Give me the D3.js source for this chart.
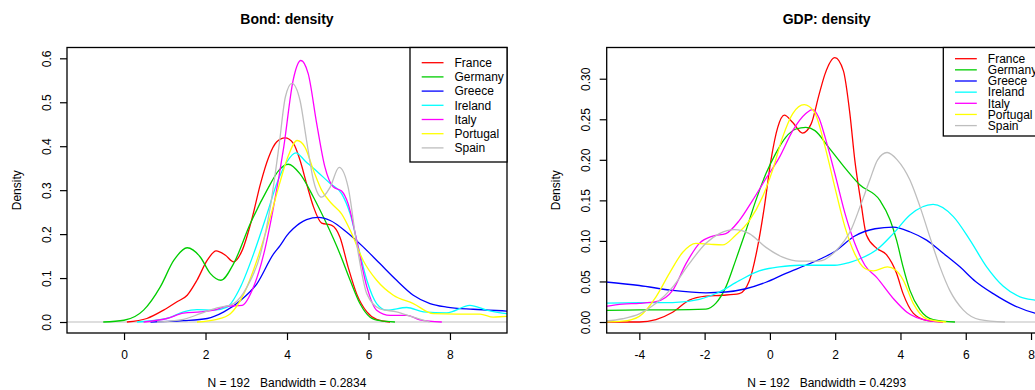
<!DOCTYPE html>
<meta charset="utf-8">
<style>
  body { margin: 0; background: #fff; }
  text { font-family: "Liberation Sans", Arial, Helvetica, sans-serif; white-space: pre; }
</style>
<script src="https://d3js.org/d3.v7.min.js"></script>
<div id="chart"></div>
<script>

// countries and the colours used for them
var countries = ["France", "Germany", "Greece", "Ireland", "Italy", "Portugal", "Spain"];
var colors = ["#FF0000", "#00CD00", "#0000FF", "#00FFFF", "#FF00FF", "#FFFF00", "#BEBEBE"];

// Bond: density curves, [x, density]
var bondFrance = [[0.07,0],[0.56,0.008],[0.97,0.027],[1.3,0.046],[1.55,0.061],[1.79,0.095],[2.04,0.14],[2.26,0.162],[2.49,0.152],[2.69,0.137],[2.9,0.163],[3.14,0.235],[3.35,0.315],[3.55,0.375],[3.75,0.41],[3.95,0.419],[4.16,0.406],[4.32,0.368],[4.48,0.315],[4.65,0.262],[4.85,0.225],[5.1,0.22],[5.3,0.193],[5.5,0.125],[5.71,0.064],[5.96,0.023],[6.2,0.006],[6.53,0]];
var bondGermany = [[-0.51,0],[0,0.004],[0.48,0.027],[0.89,0.08],[1.22,0.14],[1.55,0.169],[1.87,0.148],[2.12,0.11],[2.38,0.095],[2.69,0.133],[3.1,0.224],[3.51,0.3],[3.8,0.345],[4.03,0.359],[4.32,0.337],[4.65,0.284],[4.97,0.224],[5.3,0.155],[5.55,0.095],[5.79,0.042],[6.04,0.011],[6.28,0.003],[6.65,0]];
var bondGreece = [[0.65,0],[1.46,0.003],[2.04,0.008],[2.45,0.023],[2.86,0.049],[3.26,0.087],[3.67,0.155],[3.83,0.174],[4.0,0.197],[4.15,0.212],[4.48,0.233],[4.77,0.238],[5.06,0.231],[5.46,0.205],[5.87,0.171],[6.28,0.133],[6.69,0.095],[7.1,0.061],[7.51,0.042],[7.92,0.034],[8.57,0.029],[9.39,0.025],[9.6,0.024]];
var bondIreland = [[0.32,0],[1.05,0.008],[1.46,0.023],[1.79,0.028],[2.2,0.027],[2.53,0.034],[2.86,0.08],[3.18,0.155],[3.51,0.246],[3.75,0.315],[4.0,0.365],[4.22,0.385],[4.45,0.366],[4.65,0.35],[5.06,0.315],[5.34,0.292],[5.55,0.246],[5.75,0.171],[5.96,0.095],[6.2,0.042],[6.45,0.027],[6.94,0.033],[7.35,0.023],[7.92,0.021],[8.49,0.038],[8.9,0.027],[9.39,0.019],[9.6,0.018]];
var bondItaly = [[0.48,0],[1.05,0.008],[1.46,0.02],[1.87,0.023],[2.2,0.027],[2.53,0.036],[2.9,0.038],[3.18,0.08],[3.43,0.155],[3.67,0.262],[3.92,0.398],[4.15,0.55],[4.34,0.595],[4.52,0.565],[4.73,0.451],[4.93,0.353],[5.14,0.307],[5.34,0.298],[5.5,0.269],[5.71,0.186],[5.96,0.08],[6.2,0.027],[6.53,0.015],[6.94,0.015],[7.26,0.005],[7.8,0]];
var bondPortugal = [[1.79,0],[2.28,0.006],[2.61,0.019],[2.94,0.064],[3.26,0.14],[3.59,0.239],[3.84,0.322],[4.0,0.37],[4.25,0.413],[4.44,0.398],[4.65,0.345],[4.85,0.3],[5.1,0.269],[5.34,0.246],[5.59,0.201],[5.87,0.14],[6.2,0.095],[6.61,0.061],[7.1,0.042],[7.59,0.019],[8.16,0.018],[8.74,0.018],[9.06,0.011],[9.39,0.013],[9.6,0.013]];
var bondSpain = [[0.81,0],[1.46,0.006],[1.87,0.019],[2.28,0.032],[2.69,0.042],[3.02,0.08],[3.35,0.155],[3.59,0.262],[3.8,0.398],[3.96,0.512],[4.12,0.543],[4.32,0.504],[4.48,0.413],[4.65,0.322],[4.85,0.284],[5.06,0.307],[5.28,0.352],[5.5,0.307],[5.71,0.178],[5.96,0.064],[6.28,0.03],[6.69,0.023],[7.1,0.011],[7.5,0]];

// GDP: density curves
var gdpFrance = [[-5.2,0],[-4.0,0],[-3.49,0.003],[-2.98,0.012],[-2.47,0.027],[-1.96,0.032],[-1.45,0.033],[-0.94,0.035],[-0.63,0.051],[-0.38,0.092],[-0.17,0.142],[0.03,0.199],[0.24,0.24],[0.44,0.255],[0.7,0.246],[1.0,0.233],[1.26,0.244],[1.51,0.281],[1.69,0.306],[1.99,0.326],[2.25,0.31],[2.45,0.257],[2.6,0.2],[2.78,0.15],[2.96,0.107],[3.27,0.091],[3.57,0.083],[3.88,0.06],[4.08,0.035],[4.39,0.011],[4.8,0.002],[5.3,0]];
var gdpGermany = [[-5.2,0.014],[-4.0,0.015],[-2.98,0.015],[-1.96,0.016],[-1.66,0.023],[-1.35,0.043],[-1.05,0.076],[-0.74,0.112],[-0.43,0.15],[-0.12,0.183],[0.18,0.208],[0.49,0.228],[0.8,0.238],[1.1,0.24],[1.38,0.236],[1.79,0.216],[2.2,0.195],[2.76,0.169],[3.37,0.15],[3.68,0.126],[3.88,0.101],[4.08,0.068],[4.29,0.039],[4.6,0.015],[5.0,0.003],[5.67,0]];
var gdpGreece = [[-5.2,0.05],[-4.0,0.045],[-2.98,0.039],[-1.96,0.036],[-1.35,0.037],[-0.74,0.041],[-0.12,0.049],[0.49,0.06],[1.1,0.07],[1.56,0.078],[1.99,0.087],[2.6,0.106],[3.22,0.115],[3.78,0.117],[4.3,0.111],[4.8,0.101],[5.3,0.085],[5.82,0.068],[6.3,0.05],[6.84,0.035],[7.5,0.02],[8.12,0.011],[8.6,0.008]];
var gdpIreland = [[-5.2,0.023],[-4.0,0.024],[-2.98,0.024],[-2.16,0.028],[-1.55,0.037],[-0.94,0.051],[-0.33,0.063],[0.29,0.068],[0.9,0.07],[1.5,0.07],[1.99,0.07],[2.4,0.073],[2.76,0.078],[3.27,0.089],[3.78,0.109],[4.29,0.132],[5.0,0.145],[5.62,0.13],[6.13,0.101],[6.64,0.068],[7.15,0.044],[7.66,0.031],[8.12,0.027],[8.6,0.025]];
var gdpItaly = [[-5.2,0.018],[-4.51,0.022],[-4.0,0.023],[-3.49,0.025],[-2.98,0.039],[-2.57,0.072],[-2.16,0.097],[-1.75,0.106],[-1.35,0.109],[-0.94,0.125],[-0.53,0.15],[-0.12,0.177],[0.29,0.203],[0.7,0.236],[1.1,0.257],[1.3,0.262],[1.51,0.251],[1.69,0.228],[1.99,0.183],[2.3,0.134],[2.6,0.097],[2.91,0.07],[3.27,0.055],[3.8,0.028],[4.2,0.012],[4.8,0.002],[5.3,0]];
var gdpPortugal = [[-5.2,0],[-4.51,0.001],[-4.0,0.007],[-3.49,0.031],[-3.08,0.06],[-2.67,0.086],[-2.27,0.097],[-1.86,0.096],[-1.45,0.095],[-1.05,0.107],[-0.63,0.125],[-0.23,0.154],[0.08,0.187],[0.39,0.228],[0.7,0.257],[1.05,0.268],[1.36,0.259],[1.69,0.216],[1.99,0.166],[2.3,0.117],[2.6,0.084],[2.91,0.066],[3.17,0.063],[3.6,0.068],[3.85,0.064],[4.08,0.052],[4.39,0.023],[4.8,0.004],[5.4,0]];
var gdpSpain = [[-5.2,0.001],[-4.51,0.004],[-4.0,0.01],[-3.49,0.023],[-2.98,0.043],[-2.47,0.072],[-1.96,0.097],[-1.55,0.109],[-1.09,0.114],[-0.63,0.109],[-0.12,0.092],[0.39,0.08],[0.9,0.075],[1.5,0.075],[2.0,0.087],[2.5,0.115],[2.76,0.142],[3.06,0.175],[3.3,0.2],[3.59,0.209],[3.9,0.2],[4.29,0.175],[4.6,0.142],[4.9,0.105],[5.21,0.068],[5.51,0.039],[5.92,0.015],[6.43,0.003],[7.2,0]];

// ticks
var bondXTicks = [0, 2, 4, 6, 8];
var bondYTicks = [0, 0.1, 0.2, 0.3, 0.4, 0.5, 0.6];
var gdpXTicks = [-4, -2, 0, 2, 4, 6, 8];
var gdpYTicks = [0, 0.05, 0.1, 0.15, 0.2, 0.25, 0.3];

var panels = [
  {title: "Bond: density", sub: "N = 192   Bandwidth = 0.2834",
   curves: [bondFrance, bondGermany, bondGreece, bondIreland, bondItaly, bondPortugal, bondSpain],
   xTicks: bondXTicks, yTicks: bondYTicks, yFmt: d3.format(".1f"),
   left: 67, xDom: [-1.4, 9.4], yDom: [-0.025, 0.6246],
   legX: 410, legY0: 62.7, legStep: 14.2, legH: 114.5},
  {title: "GDP: density", sub: "N = 192   Bandwidth = 0.4293",
   curves: [gdpFrance, gdpGermany, gdpGreece, gdpIreland, gdpItaly, gdpPortugal, gdpSpain],
   xTicks: gdpXTicks, yTicks: gdpYTicks, yFmt: d3.format(".2f"),
   left: 606.7, xDom: [-5.0, 8.48], yDom: [-0.01356, 0.3385],
   legX: 943.3, legY0: 58.7, legStep: 11.15, legH: 88.5}
];

var W = 1035, H = 390, plotTop = 47.5, plotBottom = 333, pw = 440;

var svg = d3.select("#chart").append("svg")
    .attr("width", W)
    .attr("height", H);

panels.forEach(function (p, i) {
  var x = d3.scaleLinear().domain(p.xDom).range([p.left, p.left + pw]);
  var y = d3.scaleLinear().domain(p.yDom).range([plotBottom, plotTop]);
  var cx = p.left + pw / 2;

  svg.append("clipPath").attr("id", "clip" + i)
    .append("rect")
      .attr("x", p.left).attr("y", plotTop)
      .attr("width", pw).attr("height", plotBottom - plotTop);

  var plot = svg.append("g").attr("clip-path", "url(#clip" + i + ")");

  // zero line
  plot.append("line")
      .attr("x1", p.left).attr("x2", p.left + pw)
      .attr("y1", y(0)).attr("y2", y(0))
      .attr("stroke", "#BEBEBE")
      .attr("stroke-width", 1.2);

  var line = d3.line()
      .x(function (d) { return x(d[0]); })
      .y(function (d) { return y(d[1]); })
      .curve(d3.curveMonotoneX);

  plot.selectAll("path.curve")
    .data(p.curves)
    .enter().append("path")
      .attr("class", "curve")
      .attr("d", line)
      .attr("fill", "none")
      .attr("stroke", function (d, k) { return colors[k]; })
      .attr("stroke-width", 1.3);

  // box
  svg.append("rect")
      .attr("x", p.left).attr("y", plotTop)
      .attr("width", pw).attr("height", plotBottom - plotTop)
      .attr("fill", "none")
      .attr("stroke", "#000")
      .attr("stroke-width", 1.3);

  // x axis
  var xa = svg.append("g")
      .attr("transform", "translate(0," + plotBottom + ")")
      .call(d3.axisBottom(x).tickValues(p.xTicks).tickSize(7).tickSizeOuter(0)
        .tickFormat(function (d) { return String(d); }));
  xa.select(".domain").remove();
  xa.selectAll("line").attr("stroke-width", 1.2);
  xa.selectAll("text")
      .attr("y", 26).attr("dy", null)
      .style("font-size", "12px").attr("fill", "#000");

  // y axis, labels turned like R
  var ya = svg.append("g")
      .attr("transform", "translate(" + p.left + ",0)")
      .call(d3.axisLeft(y).tickValues(p.yTicks).tickSize(7).tickSizeOuter(0)
        .tickFormat(p.yFmt));
  ya.select(".domain").remove();
  ya.selectAll("line").attr("stroke-width", 1.2);
  ya.selectAll("text")
      .attr("transform", "rotate(-90)")
      .attr("x", 0).attr("y", -16.3).attr("dy", null)
      .attr("text-anchor", "middle")
      .style("font-size", "12px").attr("fill", "#000");

  // titles
  svg.append("text")
      .attr("x", cx).attr("y", 24)
      .attr("text-anchor", "middle")
      .style("font-size", "14px").style("font-weight", "bold")
      .text(p.title);
  svg.append("text")
      .attr("x", cx).attr("y", 387)
      .attr("text-anchor", "middle")
      .style("font-size", "12px")
      .text(p.sub);
  svg.append("text")
      .attr("transform", "translate(" + (p.left - 46.5) + "," + ((plotTop + plotBottom) / 2) + ") rotate(-90)")
      .attr("text-anchor", "middle")
      .style("font-size", "12px")
      .text("Density");

  // legend
  var leg = svg.append("g");
  leg.append("rect")
      .attr("x", p.legX).attr("y", plotTop)
      .attr("width", 97).attr("height", p.legH)
      .attr("fill", "#fff")
      .attr("stroke", "#000")
      .attr("stroke-width", 1.3);
  var item = leg.selectAll("g.item")
    .data(countries)
    .enter().append("g")
      .attr("class", "item")
      .attr("transform", function (d, k) { return "translate(" + p.legX + "," + (p.legY0 + k * p.legStep) + ")"; });
  item.append("line")
      .attr("x1", 11.7).attr("x2", 33.5)
      .attr("stroke", function (d, k) { return colors[k]; })
      .attr("stroke-width", 1.3);
  item.append("text")
      .attr("x", 44.5).attr("dy", "0.36em")
      .style("font-size", "12px")
      .text(function (d) { return d; });
});

</script>
